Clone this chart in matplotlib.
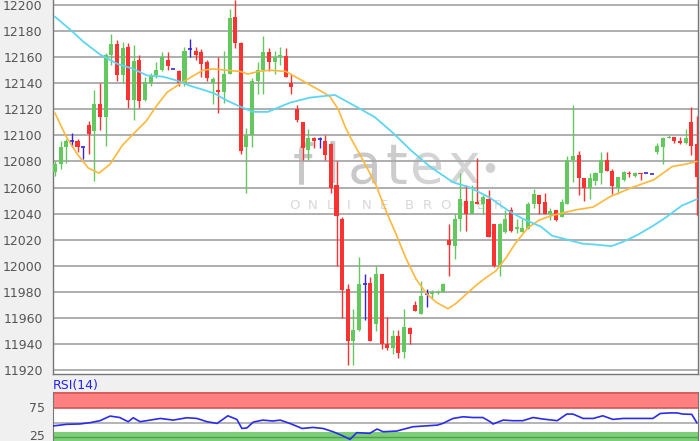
import matplotlib
matplotlib.use('Agg')
import matplotlib.pyplot as plt
from matplotlib.transforms import blended_transform_factory
import numpy as np

# ---------------- data ----------------
opens = [12072,12078,12091,12096,12096,12091,12108,12103,12124,12114,
         12162,12170,12146,12168,12127,12158,12127,12140,12146,12150,
         12158,12151,12149,12140,12166,12165,12164,12156,12140,12135,
         12133,12147,12191,12171,12091,12100,12142,12150,12164,12156,
         12160,12161,12140,12120,12110,12089,12098,12097,12096,12093,
         12062,12036,11982,11942,11951,11986,11987,11955,11994,11940,
         11937,11946,11934,11952,11970,11963,11978,11978,11979,11980,
         12020,12015,12036,12050,12040,12049,12047,12051,12032,12000,
         12026,12043,12028,12026,12028,12047,12054,12049,12040,12043,
         12037,12047,12081,12085,12067,12060,12065,12071,12081,12073,
         12060,12066,12071,12069,12071,12071,12070,12087,12091,12098,
         12099,12096,12094,12110,12093]
highs = [12080,12096,12097,12102,12097,12091,12111,12135,12140,12163,
         12178,12173,12172,12171,12169,12162,12145,12148,12156,12164,
         12164,12151,12150,12168,12174,12168,12166,12158,12145,12160,
         12165,12197,12204,12172,12106,12144,12156,12176,12167,12165,
         12168,12167,12147,12123,12110,12105,12099,12099,12100,12094,
         12080,12037,11986,11967,12007,11994,11991,12000,11994,11961,
         11951,11951,11967,11953,11973,11988,11982,11981,11981,11987,
         12032,12040,12071,12062,12062,12083,12054,12058,12032,12033,
         12043,12045,12036,12036,12049,12059,12054,12056,12044,12043,
         12051,12084,12123,12088,12067,12071,12072,12087,12087,12074,
         12068,12073,12073,12072,12071,12071,12070,12094,12099,12100,
         12099,12099,12105,12122,12115]
lows = [12069,12074,12079,12091,12087,12082,12086,12065,12104,12092,
        12154,12142,12140,12121,12112,12121,12126,12138,12144,12149,
        12150,12151,12138,12138,12160,12158,12145,12142,12124,12117,
        12125,12147,12167,12086,12056,12091,12132,12132,12149,12147,
        12154,12145,12132,12110,12081,12081,12090,12090,12081,12056,
        12000,11960,11924,11924,11950,11958,11942,11950,11936,11935,
        11932,11929,11929,11940,11965,11963,11968,11975,11978,11980,
        11992,12005,12027,12027,12040,12047,12040,12022,11999,11992,
        12025,12026,12025,12026,12028,12044,12040,12040,12035,12034,
        12037,12047,12064,12054,12050,12051,12062,12063,12073,12055,
        12055,12065,12068,12068,12066,12071,12070,12086,12078,12098,
        12094,12093,12093,12085,12039]
closes = [12078,12091,12096,12096,12091,12091,12101,12124,12114,12162,
          12170,12146,12167,12127,12157,12126,12141,12146,12150,12160,
          12153,12151,12140,12165,12166,12162,12155,12144,12143,12133,
          12147,12190,12171,12088,12100,12142,12150,12164,12156,12160,
          12162,12145,12137,12112,12090,12098,12096,12097,12085,12060,
          12038,11981,11942,11951,11986,11986,11942,11994,11940,11937,
          11946,11933,11953,11948,11965,11977,11978,11980,11980,11986,
          12016,12036,12051,12040,12050,12047,12053,12022,12000,12032,
          12036,12027,12030,12029,12047,12055,12047,12040,12042,12035,
          12049,12081,12084,12067,12060,12067,12071,12081,12073,12061,
          12068,12072,12070,12071,12070,12071,12070,12092,12098,12099,
          12096,12094,12098,12092,12068]

# moving averages (candle index, value)
ma_fast_x = [0.0,2.0,3.9,5.9,7.8,9.8,11.9,13.9,16.2,18.1,19.9,22.0,24.3,26.3,28.1,
             30.4,32.9,34.3,36.1,38.2,41.0,43.5,46.4,48.8,50.3,51.5,52.4,54.7,57.0,
             58.8,60.6,62.3,64.1,65.9,67.7,69.8,71.2,73.0,74.8,76.6,78.3,80.1,81.9,
             84.0,86.0,87.9,89.7,92.7,95.6,98.6,102.5,106.4,109.6,112.1,114.0]
ma_fast_y = [12117,12099,12086,12075,12071,12078,12092,12101,12111,12123,12133,12139,
             12145,12150,12151,12150,12149,12147,12149,12150,12149,12143,12136,12130,
             12120,12107,12099,12081,12062,12042,12024,12006,11990,11979,11972,11967,
             11971,11978,11985,11991,11996,12006,12018,12029,12035,12038,12040,12043,
             12045,12053,12060,12066,12076,12078,12080]
ma_slow_x = [0,3.0,5.0,8.0,11.0,13.9,16.3,19.2,21.7,24.0,26.3,28.4,30.4,32.9,35.2,
             37.8,41.7,45.3,49.7,53.5,56.8,60.0,63.1,66.6,70.7,73.7,77.3,80.6,83.1,
             86.3,88.3,90.1,93.6,96.6,98.8,100.7,103.2,106.0,108.5,111.3,114.0]
ma_slow_y = [12191,12180,12172,12162,12155,12151,12146,12145,12142,12138,12135,12132,
             12127,12122,12118,12118,12125,12129,12131,12122,12114,12102,12089,12076,
             12064,12060,12052,12042,12036,12030,12023,12021,12017,12016,12015,12018,
             12023,12030,12037,12046,12051]

rsi_x = [-0.4,2.1,4.4,6.2,8.0,9.8,11.5,13.0,13.9,15.1,16.9,18.7,21.0,23.4,25.2,27.0,
         28.8,30.7,32.3,33.2,34.1,35.2,36.9,38.7,40.0,41.7,43.9,45.8,47.6,49.4,51.2,
         52.4,53.6,55.9,57.2,58.3,60.7,61.8,63.6,67.9,68.9,70.7,72.5,74.2,76.0,77.3,
         77.8,79.6,81.3,83.1,84.9,86.7,89.2,90.9,92.0,93.8,95.6,97.3,99.1,100.9,103.9,
         106.2,107.5,109.2,110.5,111.5,113.1,114.0]
rsi_y = [44.3,47.2,47.8,50,53.5,61.5,59,51.7,58.6,51.7,54.5,57.4,54.5,58.6,57.4,51.7,
         48.8,62,55.7,40,41,51,54.5,52.9,54.5,48.8,40,41.8,40,34.3,26.9,
         21,32.7,31.5,39,34.3,35.5,38.4,43,45.8,48.8,57.4,60.3,59,59,51.7,
         47.7,54.5,53.5,53.5,59,56.3,53.5,65,65,57.4,57.4,62,55.7,57.4,57.4,
         57.4,66,67,67,65,64.5,50]

price_ticks = list(range(11920, 12201, 20))
rsi_ticks = [25, 75]

# ---------------- style ----------------
W, H = 700, 441
BG = '#f0f0f0'
GREEN = '#63c95f'
RED = '#fa3232'
BLUE = '#3a22d6'
ORANGE = '#ffb83a'
CYAN = '#5dd6f2'
GRID = '#a8a8a8'
TXT = '#555555'

plt.rcParams['font.family'] = ['DejaVu Sans']

fig = plt.figure(figsize=(W / 100, H / 100), dpi=100, facecolor=BG)

def fx(px):
    return px / W

def fy(py):
    return 1 - py / H

left_px, right_px = 52.5, 698
ax = fig.add_axes([fx(left_px), fy(374), fx(right_px - left_px), 374 / H])
ax.set_facecolor('white')

n = len(opens)
x = np.arange(n)
o = np.array(opens); h = np.array(highs); l = np.array(lows); c = np.array(closes)

cols = [GREEN if cc > oo else (RED if cc < oo else BLUE) for oo, cc in zip(o, c)]

ax.vlines(x, l, h, colors=cols, linewidth=1.0, zorder=3)
body_bottom = np.minimum(o, c)
body_h = np.abs(c - o)
mask = body_h > 0
ax.bar(x[mask], body_h[mask], bottom=body_bottom[mask], width=0.72,
       color=[cols[i] for i in range(n) if mask[i]], linewidth=0, zorder=4)
dj = ~mask
ax.hlines(o[dj], x[dj] - 0.36, x[dj] + 0.36, colors=BLUE, linewidth=1.2, zorder=4)

ax.plot(ma_fast_x, ma_fast_y, color=ORANGE, linewidth=1.2, zorder=5)
ax.plot(ma_slow_x, ma_slow_y, color=CYAN, linewidth=1.3, zorder=5)

px_per_idx = 5.63
ax.set_xlim((left_px - 55) / px_per_idx, (right_px - 55) / px_per_idx)
ppu = 1.3036
ax.set_ylim(12200 - (374 - 5) / ppu, 12200 + 5 / ppu)

ax.set_yticks(price_ticks)
ax.set_yticklabels([str(t) for t in price_ticks])
ax.set_xticks([])
ax.tick_params(axis='y', length=0, pad=7, labelsize=9, labelcolor=TXT)
for t in price_ticks:
    ax.axhline(t, color=GRID, linewidth=1.3, zorder=1)
ax.spines['top'].set_visible(False)
for s in ['left', 'bottom', 'right']:
    ax.spines[s].set_color('#777777')
    ax.spines[s].set_linewidth(1.0)

# watermark (behind the candles)
tf = fig.transFigure
letters = [('f', 302, '#c8c8c8'), ('l', 333, '#c8c8c8'), ('a', 365, '#c8c8c8'),
           ('t', 396, '#cccccc'), ('e', 427, '#d4d4d4'), ('x', 464, '#d4d4d4')]
for ch, px, col in letters:
    ax.text(fx(px), fy(183), ch, transform=tf, fontsize=40, color=col, ha='center',
            va='baseline', family='DejaVu Sans', zorder=0.8)
ax.text(fx(490), fy(167), '\u25cf', transform=tf, fontsize=9, color='#d0d0d0',
        ha='center', va='center', zorder=0.8)
sub = 'ONLINE BROKER'
pos = 295
for ch in sub:
    if ch != ' ':
        ax.text(fx(pos), fy(206), ch, transform=tf, fontsize=9.5, color='#d8d8d8',
                ha='center', va='center', family='DejaVu Sans', zorder=0.8)
        pos += 17.8
    else:
        pos += 8

# ---------------- RSI panel ----------------
rax = fig.add_axes([fx(left_px), 0, fx(right_px - left_px), fy(392)])
rax.set_facecolor('white')
rppu = 0.576
def rv(py):
    return 50 - (py - 422.7) / rppu
rax.set_ylim(rv(441), rv(392))
rax.set_xlim(ax.get_xlim())
rax.axhspan(75, rv(392), color='#ff8080', zorder=1, linewidth=0)
rax.axhline(75, color='#d05858', linewidth=1.2, zorder=2)
rax.axhline(rv(393), color='#d05858', linewidth=1.2, zorder=2)
rax.axhspan(rv(441), rv(432), color='#7ccf78', zorder=1, linewidth=0)
rax.axhline(25, color='#4f9f4c', linewidth=1.0, zorder=2)
rax.axhline(50, color=GRID, linewidth=1.2, zorder=2)
rax.plot(rsi_x, rsi_y, color='#2b2bef', linewidth=1.2, zorder=4)
rax.set_yticks([])
rax.set_xticks([])
lbl_tf = blended_transform_factory(fig.transFigure, rax.transData)
for t in rsi_ticks:
    yv = t if t != 25 else rv(436)
    rax.text(fx(45), yv, str(t), transform=lbl_tf, ha='right', va='center',
             fontsize=9, color=TXT, clip_on=False)
rax.spines['top'].set_visible(False)
rax.spines['bottom'].set_visible(False)
for s in ['left', 'right']:
    rax.spines[s].set_color('#777777')

fig.text(fx(53), fy(386), 'RSI(14)', fontsize=9, color='#2222ee', ha='left', va='center')

fig.savefig('out.png', dpi=100, facecolor=BG)
